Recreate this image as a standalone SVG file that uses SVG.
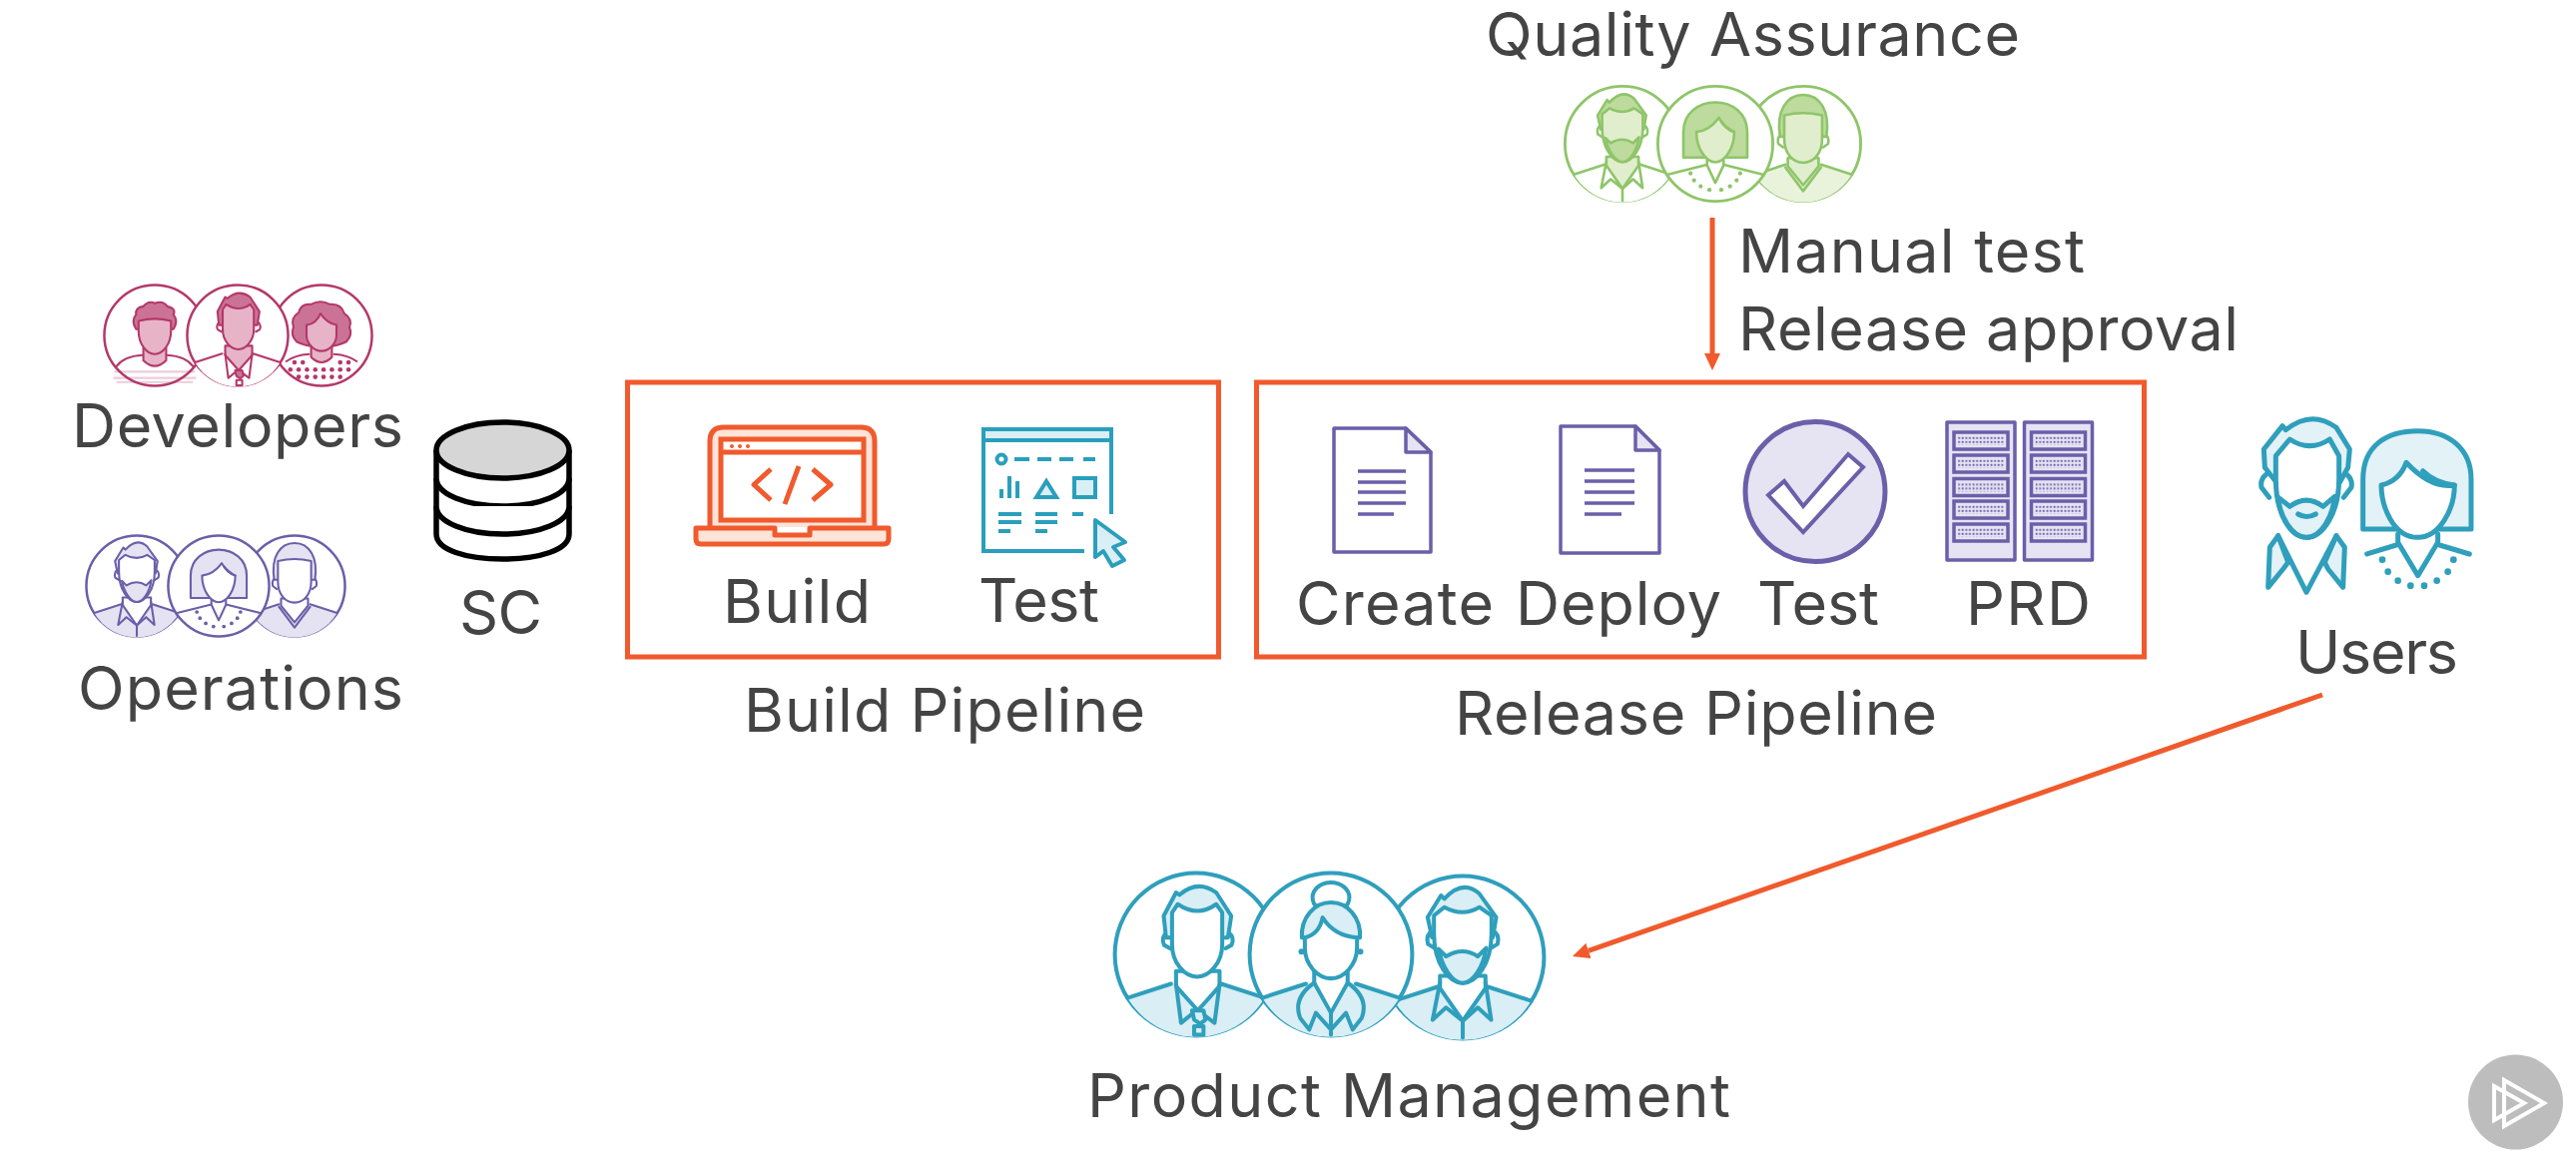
<svg xmlns="http://www.w3.org/2000/svg" width="2580" height="1170" viewBox="0 0 2580 1170">
<style>
text{font-family:"Inter","Noto Sans","Liberation Sans",sans-serif;font-size:61px;fill:#444;font-variant-ligatures:none;}
.c{fill:#fff;stroke:var(--s);stroke-width:12}
.h,.f,.b,.n{stroke:var(--s);stroke-width:var(--w);stroke-linejoin:round;stroke-linecap:round}
.h{fill:var(--h)}.f{fill:var(--f)}.b{fill:var(--b);stroke:none}.n{fill:none}.d{fill:var(--s)}
.dev{--s:#b4386a;--h:#cb7396;--f:#e6b3c7;--b:#fff;--w:10}
.ops{--s:#6b5fa9;--h:#e5e2f2;--f:#fff;--b:#e5e2f2;--w:10}
.qa{--s:#8fc569;--h:#bcdb9d;--f:#e0eecd;--b:#fff;--w:11}
.pm{--s:#2f9fbc;--h:#d9eef5;--f:#fff;--b:#d9eef5;--w:12}
.plain{--b:#fff}.soft{--b:#e9f3dc}
.box{fill:none;stroke:#f05a2c;stroke-width:5}
.or{fill:none;stroke:#f05a2c;stroke-width:5;stroke-linejoin:round}
.orf{fill:#fde3d8;stroke:#f05a2c;stroke-width:5;stroke-linejoin:round}
.bl{fill:none;stroke:#2a9fbc;stroke-width:4}
.blf{fill:#d9eff5;stroke:#2a9fbc;stroke-width:4}
.pu{fill:#fff;stroke:#6b5fa9;stroke-width:3.5;stroke-linejoin:round}
.pul{fill:none;stroke:#6b5fa9;stroke-width:3.5}
.puf{fill:#e6e3f3;stroke:#6b5fa9;stroke-width:3.5;stroke-linejoin:round}
.conn{fill:none;stroke:#f05a2c;stroke-width:5}
.db{fill:#fff;stroke:#000;stroke-width:5.5}
.u{fill:none;stroke:#2f9fbc;stroke-width:15;stroke-linejoin:round;stroke-linecap:round}
.ul{fill:#e3f2f7;stroke:#2f9fbc;stroke-width:15;stroke-linejoin:round;stroke-linecap:round}
.uw{fill:#fff;stroke:#2f9fbc;stroke-width:15;stroke-linejoin:round;stroke-linecap:round}
</style>
<defs>
<marker id="ah" markerUnits="userSpaceOnUse" markerWidth="17" markerHeight="16" refX="0" refY="8" orient="auto"><path d="M0 0L17 8L0 16Z" fill="#f05a2c"/></marker>
<pattern id="grid" width="3.6" height="4" patternUnits="userSpaceOnUse"><rect width="3.6" height="4" fill="#e6e3f3"/><rect x=".6" y=".8" width="1.8" height="2" fill="#6b5fa9"/></pattern>
<g id="unit"><rect x="0" y="0" width="54" height="17" fill="#e6e3f3" stroke="#6b5fa9" stroke-width="3.5"/><rect x="4" y="4" width="46" height="9" fill="url(#grid)"/></g>
<g id="body"><path class="b" d="M-205 130L-75 88L75 88L205 130A238 238 0 0 1-205 130Z"/><path class="n" d="M-205 130L-75 88M75 88L205 130"/></g>
<g id="ears"><path class="n" d="M-90-80Q-112-68-104-40L-85-28M90-80Q112-68 104-40L85-28"/></g>
<g id="man-beard"><use href="#body"/>
<path class="f" d="M-68 55V92L0 190L68 92V55Z"/>
<path class="n" d="M-68 75L-90 187L-50 150L0 190L45 150L85 187L68 75M0 190V240"/>
<use href="#ears"/>
<path class="h" d="M-92-60L-105-120L-65-185L-55-175Q0-235 50-190L100-120L90-60Z"/>
<path class="f" d="M-86-125L-55-150Q0-120 50-150L86-125V-70C86 20 40 77 0 77C-40 77-86 20-86-70Z"/>
<path class="h" d="M-72-25L-50-3Q0-33 45-3L70-28C62 30 30 77 0 77C-30 77-62 30-72-25Z"/></g>
<g id="man-suit"><use href="#body"/>
<path class="f" d="M-60 50V95L5 168L70 95V50Z"/>
<path class="n" d="M-60 90L-45 205L0 168L5 168L55 205L70 90"/>
<path class="h" d="M-12 168H22L28 195L12 208L-6 195Z"/><path class="n" d="M-6 215H22V240H-6Z"/>
<path class="n" d="M-88-65Q-106-50-96-28L-78-18M98-65Q116-50 106-28L88-18"/>
<path class="h" d="M-90-50L-97-115L-60-185L-50-178Q5-225 60-185L105-115L95-50Z"/>
<path class="f" d="M-72-125L-55-150Q5-110 60-150L78-125V-30C78 25 40 67 3 67C-35 67-72 25-72-30Z"/></g>
<g id="woman-bun"><use href="#body"/>
<ellipse class="n" cx="0" cy="-170" rx="55" ry="45"/>
<path class="f" d="M-50 50V85L0 175L50 85V50Z"/>
<path class="n" d="M-50 85Q-115 130-92 190L-65 225M50 85Q115 130 92 190L65 225M-65 225L-45 175L0 225L45 175L65 225M0 175V240"/>
<circle class="d" cx="-88" cy="-8" r="9"/><circle class="d" cx="88" cy="-8" r="9"/>
<path class="h" d="M-87-50C-90-110-50-155 0-155C50-155 90-110 87-50Z"/>
<path class="f" d="M-78-50Q-35-60-25-110Q10-55 78-50V-20C78 30 40 72 0 72C-40 72-78 30-78-20Z"/></g>
<g id="woman-bob">
<path class="n" d="M-200 130L-40 90M40 90L200 130"/>
<path class="n" d="M-35 70V90L0 165L35 90V70"/>
<path class="h" d="M-135 58V-50C-135-130-70-175 0-175C70-175 135-130 135-50V58Z"/>
<path class="f" d="M-80-50C-80 20-40 78 0 78C40 78 80 20 80-50Q40-60 15-110Q-25-55-80-50Z"/>
<path class="n" d="M25-95Q45-68 80-50"/>
<g class="d"><circle cx="-105" cy="125" r="9"/><circle cx="-90" cy="155" r="9"/><circle cx="-62" cy="180" r="9"/><circle cx="-25" cy="195" r="9"/><circle cx="25" cy="195" r="9"/><circle cx="62" cy="180" r="9"/><circle cx="90" cy="155" r="9"/><circle cx="105" cy="125" r="9"/></g></g>
<g id="man-v"><use href="#body"/>
<path class="f" d="M-65 60V95L0 175L65 95V60Z"/><path class="n" d="M-75 100L0 200L75 100"/>
<path class="n" d="M-90-40Q-112-30-105 0L-85 15M90-40Q112-30 105 0L85 15"/>
<path class="h" d="M-98-30C-115-140-70-207 0-207C70-207 115-140 98-30Z"/>
<path class="f" d="M-80-120Q0-140 80-120V-20C80 40 45 80 0 80C-45 80-80 40-80-20Z"/></g>
<g id="man-curly">
<path class="n" d="M-185 150Q-150 100-60 95M60 95Q150 100 185 150"/>
<path class="n" d="M-190 175H190M-195 205H195M-180 225H180" stroke-opacity=".25"/>
<path class="f" d="M-55 60V120Q0 175 55 120V60Z"/>
<path class="h" d="M-90-30Q-115-70-90-100Q-95-135-55-140Q-30-170 0-155Q40-170 60-140Q105-130 90-100Q115-70 90-30Z"/>
<path class="f" d="M-78-70Q0-90 78-70V-20C78 40 40 90 0 90C-40 90-78 40-78-20Z"/></g>
<g id="woman-afro">
<path class="n" d="M-170 125Q-130 95-60 90M60 90Q130 95 170 125"/>
<g class="d"><circle cx="-130" cy="130" r="11"/><circle cx="-90" cy="130" r="11"/><circle cx="90" cy="130" r="11"/><circle cx="130" cy="130" r="11"/><circle cx="-150" cy="165" r="11"/><circle cx="-110" cy="165" r="11"/><circle cx="-70" cy="165" r="11"/><circle cx="-30" cy="165" r="11"/><circle cx="10" cy="165" r="11"/><circle cx="50" cy="165" r="11"/><circle cx="90" cy="165" r="11"/><circle cx="130" cy="165" r="11"/><circle cx="-110" cy="200" r="11"/><circle cx="-70" cy="200" r="11"/><circle cx="-30" cy="200" r="11"/><circle cx="10" cy="200" r="11"/><circle cx="50" cy="200" r="11"/><circle cx="90" cy="200" r="11"/></g>
<path class="f" d="M-50 55V105Q0 155 50 105V55Z"/>
<path class="h" d="M-120 30Q-150 0-135-40Q-150-85-110-110Q-100-155-50-150Q-5-175 40-150Q95-155 110-105Q150-80 135-40Q150 0 120 30Q60 60 0 50Q-60 60-120 30Z"/>
<path class="f" d="M-72-50Q-25-55-5-105Q25-60 72-50V0C72 40 35 75 0 75C-35 75-72 40-72 0Z"/></g>
</defs>
<rect width="2580" height="1170" fill="#fff"/>
<g id="connectors">
<path class="conn" d="M1715 218V354" marker-end="url(#ah)"/>
<path class="conn" d="M2326 696L1591 952.4" marker-end="url(#ah)"/>
</g>
<g id="developers" class="dev">
<g transform="translate(155 336) scale(.208)"><circle class="c" r="243"/><use href="#man-curly"/></g>
<g transform="translate(322 336) scale(.208)"><circle class="c" r="243"/><use href="#woman-afro"/></g>
<g transform="translate(238 336) scale(.208)"><circle class="c" r="243"/><use href="#man-suit"/></g>
<text x="72" y="448" textLength="332">Developers</text>
</g>
<g id="operations" class="ops">
<g transform="translate(137 587) scale(.208)"><circle class="c" r="243"/><use href="#man-beard"/></g>
<g transform="translate(295 587) scale(.208)"><circle class="c" r="243"/><use href="#man-v"/></g>
<g transform="translate(219 587) scale(.208)" class="plain"><circle class="c" r="243"/><use href="#woman-bob"/></g>
<text x="78" y="711" textLength="326">Operations</text>
</g>
<g id="sc">
<path class="db" d="M437 451V535C437 551 467 560 503.5 560S570 551 570 535V451"/>
<path class="db" d="M437 479C437 495 467 507 503.5 507S570 495 570 479" fill="none"/>
<path class="db" d="M437 507C437 523 467 535 503.5 535S570 523 570 507" fill="none"/>
<ellipse cx="503.5" cy="451" rx="66.5" ry="28" fill="#d6d6d6" stroke="#000" stroke-width="5.5"/>
<text x="460" y="635" textLength="83">SC</text>
</g>
<g id="build-pipeline">
<rect class="box" x="628.5" y="383" width="592" height="275"/>
<text x="745" y="733" textLength="402">Build Pipeline</text>
</g>
<g id="build">
<path class="orf" d="M711 528V442Q711 428 725 428H862Q876 428 876 442V528"/>
<rect x="722" y="440" width="143" height="81" fill="#fff" stroke="#f05a2c" stroke-width="5"/>
<path class="or" d="M722 453H865"/>
<g fill="#f05a2c"><circle cx="733" cy="447" r="2"/><circle cx="741" cy="447" r="2"/><circle cx="749" cy="447" r="2"/></g>
<path class="or" d="M772 470L755 485.500L772 501M800 467L786 505M814 470L832 485.500L814 501"/>
<path class="orf" d="M697 529H776V536H811V529H890V540Q890 545 885 545H702Q697 545 697 540Z"/>
<text x="724" y="624" textLength="148">Build</text>
</g>
<g id="test-build">
<path class="bl" d="M1113 515V430H985V552H1086"/>
<rect class="blf" x="985" y="430" width="128" height="11"/>
<circle class="bl" cx="1003" cy="460" r="4.500"/>
<path class="bl" d="M1016 460H1031M1039 460H1053M1061 460H1075M1085 460H1097"/>
<path class="bl" d="M1003 499V490M1011 499V477M1019 499V482M1000 515H1023M1000 523H1023M1000 532H1012M1037 515H1059M1037 523H1059M1037 532H1049M1074 515H1085"/>
<path class="blf" d="M1048 482L1038 498H1058Z"/>
<rect class="blf" x="1076" y="479" width="21" height="19"/>
<path class="blf" d="M1097 521L1127 543L1115 548L1126 561L1114 567L1105 552L1097 558Z" stroke-linejoin="round"/>
<text x="980" y="623" textLength="121">Test</text>
</g>
<g id="release-pipeline">
<rect class="box" x="1258.500" y="383" width="889" height="275"/>
<text x="1457" y="736" textLength="483">Release Pipeline</text>
</g>
<g id="create">
<path class="pu" d="M1336 429H1408L1433 453V553H1336Z"/><path class="puf" d="M1408 429L1433 453H1408Z"/>
<path class="pul" d="M1360 472H1408M1360 483H1408M1360 493H1408M1360 504H1408M1360 515H1396"/>
<text x="1298" y="626" textLength="198">Create</text>
</g>
<g id="deploy">
<path class="pu" d="M1563 427H1638L1662 451V554H1563Z"/><path class="puf" d="M1638 427L1662 451H1638Z"/>
<path class="pul" d="M1587 471H1637M1587 482H1637M1587 493H1637M1587 504H1637M1587 515H1624"/>
<text x="1518" y="626" textLength="206">Deploy</text>
</g>
<g id="test-release">
<circle cx="1818" cy="492.500" r="70" fill="#e6e3f3" stroke="#6b5fa9" stroke-width="5"/>
<path d="M1771 496L1806 533L1866 468L1851 455L1806 507L1787 482Z" fill="#fff" stroke="#6b5fa9" stroke-width="4" stroke-linejoin="miter"/>
<text x="1760" y="626" textLength="122">Test</text>
</g>
<g id="prd">
<rect class="puf" x="1950" y="423" width="68" height="138"/><rect class="puf" x="2027.500" y="423" width="68" height="138"/>
<use href="#unit" x="1957" y="433"/><use href="#unit" x="1957" y="456"/><use href="#unit" x="1957" y="479.500"/><use href="#unit" x="1957" y="502"/><use href="#unit" x="1957" y="525"/>
<use href="#unit" x="2034.500" y="433"/><use href="#unit" x="2034.500" y="456"/><use href="#unit" x="2034.500" y="479.500"/><use href="#unit" x="2034.500" y="502"/><use href="#unit" x="2034.500" y="525"/>
<text x="1969" y="626" textLength="125">PRD</text>
</g>
<g id="quality-assurance" class="qa">
<text x="1488" y="56" textLength="535">Quality Assurance</text>
<g transform="translate(1625 144) scale(.237)"><circle class="c" r="243"/><use href="#man-beard"/></g>
<g transform="translate(1806 144) scale(.237)" class="soft"><circle class="c" r="243"/><use href="#man-v"/></g>
<g transform="translate(1718 144) scale(.237)"><circle class="c" r="243"/><use href="#woman-bob"/></g>
</g>
<g id="qa-label">
<text x="1741" y="273" textLength="347">Manual test</text>
<text x="1741" y="351" textLength="501">Release approval</text>
</g>
<g id="users">
<g transform="translate(2200 400) scale(.3333)">
<path class="ul" d="M240 250L205 205L202 150L258 80L268 92Q345 30 420 85L460 150L455 205L430 250Z"/>
<path class="uw" d="M238 170L280 120Q340 160 400 120L428 170V240C428 340 380 415 330 415C280 415 238 340 238 240Z"/>
<path class="ul" d="M245 295L280 322Q330 285 380 322L415 292C410 350 375 415 330 415C285 415 250 350 245 295Z"/>
<path class="u" d="M305 345Q330 360 358 345M210 225Q190 240 195 265L218 295M450 225Q470 240 465 265L442 295"/>
<path class="ul" d="M245 410L220 445L215 565L260 510L275 490Z M420 410L445 445L440 565L395 510L385 490Z"/>
<path class="u" d="M245 410L330 580L420 410"/>
<path class="ul" d="M500 390V240C500 140 570 95 665 95C760 95 825 150 825 240V390Z"/>
<path class="uw" d="M555 258C555 320 590 415 665 415C730 415 775 330 775 258Q705 270 630 190Q610 245 555 258Z"/>
<path class="u" d="M680 215Q715 250 775 258M605 405V430L665 530L725 430V405M512 465L600 438M730 438L820 465"/>
<g fill="#2f9fbc"><circle cx="558" cy="482" r="10"/><circle cx="575" cy="518" r="10"/><circle cx="605" cy="545" r="10"/><circle cx="643" cy="560" r="10"/><circle cx="684" cy="560" r="10"/><circle cx="722" cy="545" r="10"/><circle cx="755" cy="518" r="10"/><circle cx="772" cy="482" r="10"/></g>
</g>
<text x="2299" y="675" textLength="163">Users</text>
</g>
<g id="product-management" class="pm">
<g transform="translate(1198 956) scale(.335)"><circle class="c" r="243"/><use href="#man-suit"/></g>
<g transform="translate(1465 959) scale(.335)"><circle class="c" r="243"/><use href="#man-beard"/></g>
<g transform="translate(1333 956) scale(.335)"><circle class="c" r="243"/><use href="#woman-bun"/></g>
<text x="1089" y="1119" textLength="644">Product Management</text>
</g>
<g id="play">
<circle cx="2519.500" cy="1104" r="47.500" fill="#bdbdbd"/>
<path d="M2508 1082L2548 1105L2508 1128ZM2498 1088L2528 1105L2498 1122Z" fill="none" stroke="#fff" stroke-width="4"/>
</g>
</svg>
